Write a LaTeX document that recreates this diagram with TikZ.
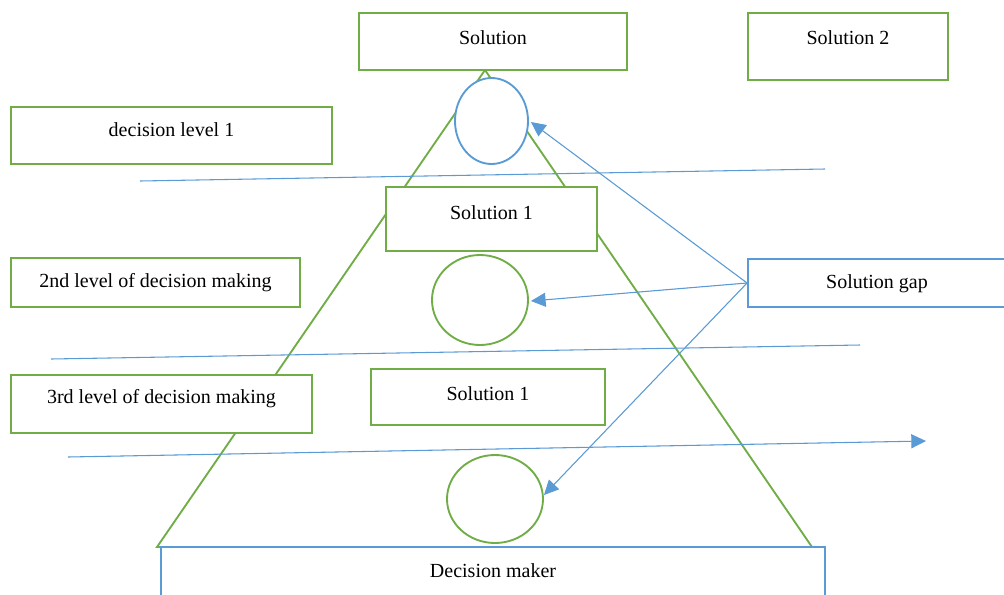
\documentclass[tikz,border=0pt]{standalone}
\usepackage{fontspec}
\setmainfont{Liberation Serif}
\usetikzlibrary{arrows.meta,shapes.geometric}
\definecolor{offblue}{HTML}{5B9BD5}
\definecolor{offgreen}{HTML}{70AD47}

\begin{document}
\begin{tikzpicture}[x=0.75pt, y=-0.75pt, font=\fontsize{15}{17}\selectfont,
  box/.style={draw=offgreen, line width=1.4pt, fill=white, inner sep=0pt, text height=10pt},
  bluebox/.style={box, draw=offblue},
  lift/.style={text depth=#1},
  bubble/.style={ellipse, draw=offgreen, line width=1.4pt, fill=white, inner sep=0pt},
  level/.style={draw=offblue, line width=0.8pt},
  arrow/.style={-{Triangle[length=11pt,width=10.5pt]}, draw=offblue, fill=offblue, line width=0.8pt}]
  \useasboundingbox (0,0) rectangle (1004,594);
  \coordinate (apex) at (485,70);
  \coordinate (baseL) at (157,547);
  \coordinate (baseR) at (812,547);
  \draw[draw=offgreen, line width=1.4pt] (baseL) -- (apex) -- (baseR) -- cycle;
  \node[box, lift=5.3pt, minimum width=201pt, minimum height=42.75pt] (sol) at (493,41.5) {Solution};
  \node[box, lift=12.7pt, minimum width=150pt, minimum height=50.25pt] (sol2) at (848,46.5) {Solution 2};
  \node[box, lift=8.3pt, minimum width=240.75pt, minimum height=42.75pt] (lvl1) at (171.5,135.5) {decision level 1};
  \node[box, lift=9.1pt, minimum width=158.25pt, minimum height=48pt] (solA) at (491.5,219) {Solution 1};
  \node[box, lift=2.3pt, minimum width=216.75pt, minimum height=36.75pt] (lvl2) at (155.5,282.5) {2nd level of decision making};
  \node[bluebox, lift=1.5pt, minimum width=193.5pt, minimum height=36pt] (gap) at (877,283) {Solution gap};
  \node[box, lift=10.5pt, minimum width=225.75pt, minimum height=43.5pt] (lvl3) at (161.5,404) {3rd level of decision making};
  \node[box, lift=4.5pt, minimum width=175.5pt, minimum height=42pt] (solB) at (488,397) {Solution 1};
  \node[bluebox, lift=3.7pt, minimum width=498pt, minimum height=39.75pt] (maker) at (493,573.5) {Decision maker};
  \node[bubble, draw=offblue, minimum width=54.75pt, minimum height=64.5pt] (top) at (491.5,121) {};
  \node[bubble, minimum width=72pt, minimum height=67.5pt] (mid) at (480,300) {};
  \node[bubble, minimum width=72pt, minimum height=66pt] (low) at (495,499) {};
  \coordinate (l1a) at (140,181);
  \coordinate (l1b) at (825,169);
  \coordinate (l2a) at (51,359);
  \coordinate (l2b) at (860,345);
  \coordinate (l3a) at (68,457);
  \coordinate (l3b) at (926,441);
  \draw[level] (l1a) -- (l1b);
  \draw[level] (l2a) -- (l2b);
  \draw[arrow] (l3a) -- (l3b);
  \draw[arrow] (gap.west) -- ([shift={(2,1)}]top.east);
  \draw[arrow] (gap.west) -- ([shift={(2,1)}]mid.east);
  \draw[arrow] (gap.west) -- ([shift={(0,-4)}]low.east);
\end{tikzpicture}
\end{document}
